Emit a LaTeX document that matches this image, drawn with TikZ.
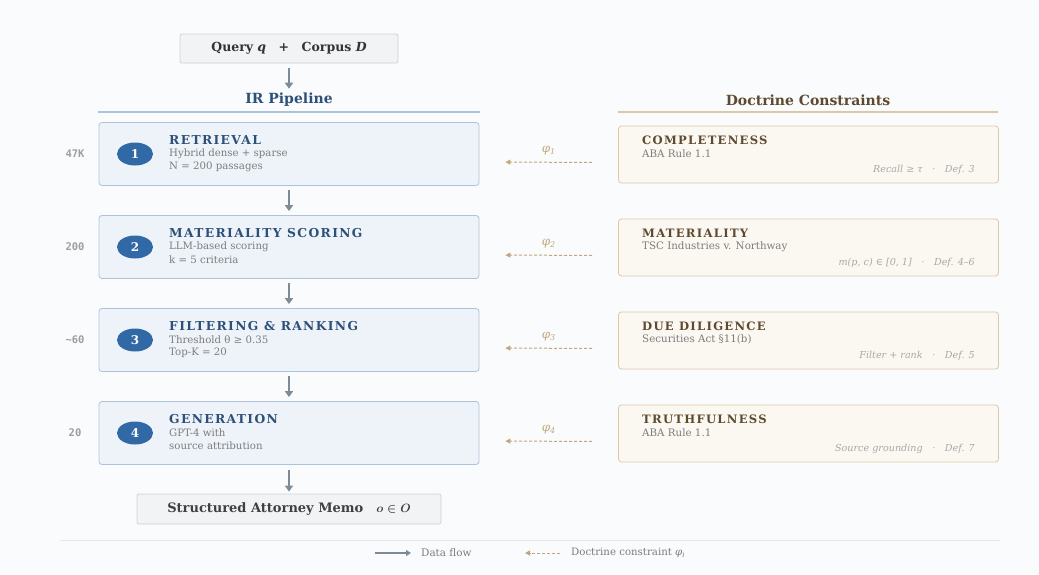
\documentclass[tikz,border=0pt]{standalone}
\usepackage{fontspec}
\setmainfont{DejaVu Serif}
\newfontfamily\capsfont[LetterSpace=11]{DejaVu Serif}
\newfontfamily\countfont{DejaVu Sans Mono}
\usetikzlibrary{arrows.meta}
\usetikzlibrary{positioning}
\usetikzlibrary{shapes.geometric}
\usepackage{xcolor}
\definecolor{pagebg}{HTML}{FAFBFC}
\definecolor{pipefill}{HTML}{EEF3F9}
\definecolor{pipeline}{HTML}{AFC3D8}
\definecolor{pipeblue}{HTML}{3169A6}
\definecolor{pipetitle}{HTML}{2D5078}
\definecolor{docfill}{HTML}{FBF8F2}
\definecolor{docline}{HTML}{DCC8A6}
\definecolor{doctitle}{HTML}{5E4A30}
\definecolor{docarrow}{HTML}{BFA87E}
\definecolor{subgray}{HTML}{7C7C7C}
\definecolor{notegray}{HTML}{A8A8A8}
\definecolor{arrowgray}{HTML}{7D8A97}
\definecolor{endfill}{HTML}{F1F3F5}
\definecolor{endline}{HTML}{CDD2D8}

\begin{document}
\begin{tikzpicture}[x=1pt, y=-1pt,
  pipebox/.style={draw=pipeline, fill=pipefill, rounded corners=3pt, line width=0.8pt, minimum width=380pt, minimum height=63pt},
  docbox/.style={draw=docline, fill=docfill, rounded corners=3pt, line width=0.8pt, minimum width=380pt, minimum height=57pt},
  endbox/.style={draw=endline, fill=endfill, rounded corners=2pt, line width=0.8pt},
  badge/.style={ellipse, fill=pipeblue, minimum width=36pt, minimum height=23pt, inner sep=0pt, text=white, font=\bfseries\fontsize{12}{12}\selectfont},
  flow/.style={draw=arrowgray, line width=1.6pt, -{Triangle[length=6pt,width=8pt]}},
  constraint/.style={draw=docarrow, line width=1pt, dash pattern=on 3pt off 2pt, -{Triangle[length=5pt,width=5pt]}},
  txt/.style={anchor=west, inner sep=0pt}]
\def\gap{93}
\useasboundingbox[fill=pagebg] (0,0) rectangle (1039,574);

\node[endbox, minimum width=218pt, minimum height=29pt, font=\bfseries\fontsize{12.5}{14}\selectfont, text=black!80] (query) at (289,48.5) {Query \textit{q}\quad+\quad Corpus \textit{D}};
\node[font=\bfseries\fontsize{14}{16}\selectfont, text=pipetitle] (irhead) at (289,100) {IR Pipeline};
\node[font=\bfseries\fontsize{14}{16}\selectfont, text=doctitle] (dochead) at (808,100) {Doctrine Constraints};
\draw[pipeline, line width=1.2pt] (98,112) -- (480,112);
\draw[docline, line width=1.2pt] (618,112) -- (998,112);
\draw[flow, shorten <=5pt, shorten >=1pt] (query) -- (irhead);

% pipeline stages
\foreach \i/\cnt/\name/\la/\lb in {1/47K/RETRIEVAL/Hybrid dense + sparse/N = 200 passages,
  2/200/MATERIALITY SCORING/LLM-based scoring/k = 5 criteria,
  3/{\textasciitilde60}/FILTERING \& RANKING/Threshold θ ≥ 0.35/Top-K = 20,
  4/20/GENERATION/GPT-4 with/source attribution} {
  \pgfmathsetmacro\cy{154+\gap*(\i-1)}
  \node[pipebox] (step\i) at (289,\cy) {};
  \node[badge] (badge\i) at (135,\cy) {\i};
  \node[txt, text=pipetitle, font=\capsfont\bfseries\fontsize{12.3}{14}\selectfont] (step\i-title) at (169,\cy-14) {\name};
  \node[txt, text=subgray, font=\fontsize{10.2}{12}\selectfont] (step\i-a) at (169,\cy-0.5) {\la};
  \node[txt, text=subgray, font=\fontsize{10.2}{12}\selectfont] (step\i-b) at (169,\cy+13) {\lb};
  \node[text=black!38, font=\countfont\bfseries\fontsize{10.5}{12}\selectfont] (count\i) at (75,\cy) {\cnt};
}

% doctrine constraints
\foreach \i/\name/\src/\note in {1/COMPLETENESS/{ABA Rule 1.1}/{Recall ≥ τ\quad·\quad Def. 3},
  2/MATERIALITY/{TSC Industries v. Northway}/{m(p, c) ∈ [0, 1]\quad·\quad Def. 4–6},
  3/DUE DILIGENCE/{Securities Act §11(b)}/{Filter + rank\quad·\quad Def. 5},
  4/TRUTHFULNESS/{ABA Rule 1.1}/{Source grounding\quad·\quad Def. 7}} {
  \pgfmathsetmacro\cy{154.5+\gap*(\i-1)}
  \node[docbox] (doc\i) at (808.5,\cy) {};
  \node[txt, text=doctitle, font=\capsfont\bfseries\fontsize{11.6}{13}\selectfont] (doc\i-title) at (642,\cy-14) {\name};
  \node[txt, text=subgray, font=\fontsize{10.3}{12}\selectfont] (doc\i-src) at (642,\cy-1) {\src};
  \node[anchor=east, inner sep=0pt, text=notegray, font=\itshape\fontsize{9.6}{11}\selectfont] (doc\i-note) at (975,\cy+15.5) {\note};
  \draw[constraint, shorten <=26pt, shorten >=26pt] ([yshift=-8pt]doc\i.west) -- ([yshift=-8pt]step\i.east)
    node[midway, above=3pt, text=docarrow, font=\itshape\fontsize{12}{12}\selectfont] (phi\i) {φ\textsubscript{\i}};
}

\foreach \i [evaluate=\i as \j using int(\i+1)] in {1,2,3} {
  \draw[flow, shorten <=4pt, shorten >=4pt] (step\i) -- (step\j);
}

\node[endbox, minimum width=304pt, minimum height=30pt, font=\bfseries\fontsize{13}{15}\selectfont, text=black!75] (memo) at (289,509) {Structured Attorney Memo\quad{\boldmath$o \in O$}};
\draw[flow, shorten <=5pt, shorten >=2pt] (step4) -- (memo);

% legend
\draw[black!10, line width=0.8pt] (60,540) -- (1000,540);
\coordinate (flowa) at (375,553);
\coordinate (flowb) at (411,553);
\coordinate (consa) at (560,553);
\coordinate (consb) at (525,553);
\draw[flow, line width=1.2pt, -{Triangle[length=5pt,width=6pt]}] (flowa) -- (flowb);
\draw[constraint] (consa) -- (consb);
\node[txt, text=subgray, font=\fontsize{10.4}{12}\selectfont] (flowlbl) at (421,553) {Data flow};
\node[txt, text=subgray, font=\fontsize{10.2}{12}\selectfont] (conslbl) at (571,553) {Doctrine constraint \textit{φ}\textsubscript{\textit{i}}};
\end{tikzpicture}
\end{document}
